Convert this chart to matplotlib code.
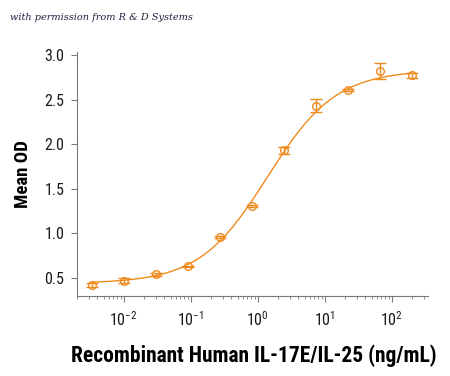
import numpy as np
import matplotlib
matplotlib.use("Agg")
import matplotlib.pyplot as plt
from matplotlib.ticker import LogLocator, NullFormatter

# concentrations (ng/mL), 3-fold dilution series
conc = [0.00339, 0.0102, 0.0305, 0.0914, 0.274, 0.823, 2.47, 7.41, 22.2, 66.7, 200]
mean_od = [0.42, 0.47, 0.54, 0.63, 0.96, 1.31, 1.93, 2.43, 2.61, 2.82, 2.77]
od_err = [0.02, 0.03, 0.02, 0.01, 0.01, 0.01, 0.04, 0.075, 0.01, 0.085, 0.03]

# four parameter logistic fit drawn through the points
fit_bottom = 0.44
fit_top = 2.83
fit_ec50 = 1.4
fit_hill = 0.85

ORANGE = "#EE8A1E"
GREY = "#7a7a7a"

plt.rcParams['font.family'] = ['Roboto Condensed', 'Liberation Sans', 'DejaVu Sans']
plt.rcParams['mathtext.fontset'] = 'custom'
plt.rcParams['mathtext.rm'] = 'Roboto Condensed'


def main():
    fig = plt.figure(figsize=(4.5, 3.76), dpi=100)
    ax = fig.add_axes([0.171, 0.213, 0.78, 0.649])

    xs = np.logspace(np.log10(conc[0]), np.log10(conc[-1]), 300)
    ys = fit_bottom + (fit_top - fit_bottom) / (1 + (fit_ec50 / xs) ** fit_hill)
    ax.plot(xs, ys, color=ORANGE, lw=1.0)

    ax.errorbar(conc, mean_od, yerr=od_err, fmt="o", mfc="none", mec=ORANGE,
                ecolor=ORANGE, ms=5.5, mew=1.0, elinewidth=1.0, capsize=4, capthick=1.0)

    ax.set_xscale("log")
    ax.set_xlim(10 ** -2.70, 10 ** 2.54)
    ax.set_ylim(0.3, 3.034)
    ax.set_yticks([0.5, 1.0, 1.5, 2.0, 2.5, 3.0])
    ax.set_yticklabels(["0.5", "1.0", "1.5", "2.0", "2.5", "3.0"])
    ax.set_xticks([1e-2, 1e-1, 1e0, 1e1, 1e2])
    ax.set_xticklabels([r"$\mathregular{10^{-2}}$", r"$\mathregular{10^{-1}}$",
                        r"$\mathregular{10^{0}}$", r"$\mathregular{10^{1}}$",
                        r"$\mathregular{10^{2}}$"])
    ax.xaxis.set_minor_locator(LogLocator(base=10, subs=np.arange(2, 10), numticks=20))
    ax.xaxis.set_minor_formatter(NullFormatter())

    for s in ["top", "right"]:
        ax.spines[s].set_visible(False)
    for s in ["left", "bottom"]:
        ax.spines[s].set_color(GREY)
        ax.spines[s].set_linewidth(0.8)
    ax.tick_params(axis="both", which="major", color=GREY, length=4, width=0.8,
                   labelsize=11.5, labelcolor="#1a1a1a")
    ax.tick_params(axis="x", which="minor", color=GREY, length=2.5, width=0.6)
    ax.tick_params(axis="x", which="major", pad=6)
    ax.tick_params(axis="y", which="major", pad=5)

    ax.set_ylabel("Mean OD", fontsize=13.5, fontweight="bold")
    ax.yaxis.set_label_coords(-0.128, 0.5)
    ax.set_xlabel("Recombinant Human IL-17E/IL-25 (ng/mL)", fontsize=15.5,
                  fontweight="bold")
    ax.xaxis.set_label_coords(0.505, -0.2)

    fig.text(0.022, 0.948, "with permission from R & D Systems", fontsize=7,
             family="DejaVu Serif", style="italic", color="#1c2240")

    fig.savefig("out.png", dpi=100)


if __name__ == "__main__":
    main()
